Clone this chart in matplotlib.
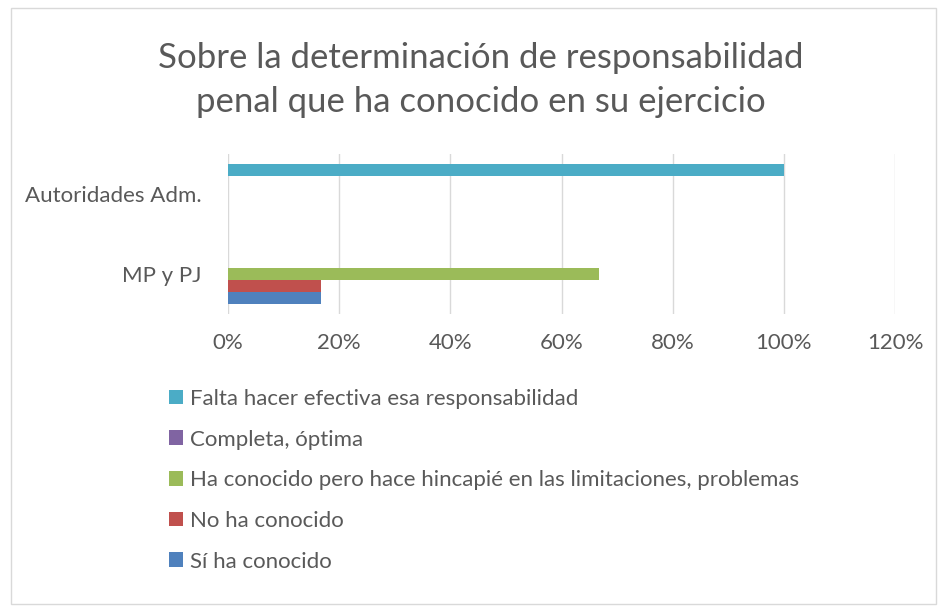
import matplotlib
matplotlib.use("Agg")
import matplotlib.pyplot as plt
from matplotlib.patches import Patch, Rectangle

categories = ["MP y PJ", "Autoridades Adm."]
series_names = [
    "Sí ha conocido",
    "No ha conocido",
    "Ha conocido pero hace hincapié en las limitaciones, problemas",
    "Completa, óptima",
    "Falta hacer efectiva esa responsabilidad",
]
si_ha_conocido = [0.1667, 0.0]
no_ha_conocido = [0.1667, 0.0]
ha_conocido_pero = [0.6667, 0.0]
completa_optima = [0.0, 0.0]
falta_hacer = [0.0, 1.0]
series_values = [si_ha_conocido, no_ha_conocido, ha_conocido_pero, completa_optima, falta_hacer]
colors = ["#4f81bd", "#c0504d", "#9bbb59", "#8064a2", "#4bacc6"]
xticks = [0, 0.2, 0.4, 0.6, 0.8, 1.0, 1.2]
xtick_labels = ["0%", "20%", "40%", "60%", "80%", "100%", "120%"]
title = "Sobre la determinación de responsabilidad\npenal que ha conocido en su ejercicio"

plt.rcParams['font.family'] = ['Lato', 'DejaVu Sans']
txt = "#595959"

fig = plt.figure(figsize=(9.4, 6.08), dpi=100)
fig.patch.set_facecolor("white")
fig.add_artist(Rectangle((11/940, 1-604/608), 925/940, 596/608, transform=fig.transFigure,
                         fill=False, edgecolor="#d9d9d9", lw=1))

ax = fig.add_axes([228/940, 1-314/608, (895-228)/940, 160/608])
h = 0.15
ypos = list(range(len(categories)))
for i, (vals, c) in enumerate(zip(series_values, colors)):
    ax.barh([y + (i-2)*h for y in ypos], vals, height=h, color=c, label=series_names[i])

ax.set_xlim(0, 1.2)
ax.set_ylim(-0.5, 1.5)
ax.set_xticks(xticks)
ax.set_xticklabels(xtick_labels, fontsize=16, color=txt)
ax.set_yticks(ypos)
ax.set_yticklabels(categories, fontsize=16, color=txt)
ax.tick_params(axis='both', length=0)
ax.tick_params(axis='x', pad=14)
ax.tick_params(axis='y', pad=19)
ax.grid(axis='x', color="#d9d9d9", lw=1)
ax.set_axisbelow(True)
for s in ax.spines.values():
    s.set_visible(False)

fig.text(481/940, 1-80/608, title, ha='center', va='center', fontsize=25, color=txt, linespacing=1.5)

handles = [Patch(facecolor=c, edgecolor='none') for c in colors][::-1]
labels = series_names[::-1]
fig.legend(handles, labels, loc='upper left', bbox_to_anchor=(160/940, 1-380/608),
           frameon=False, fontsize=16, labelcolor=txt, handlelength=0.64, handleheight=0.64,
           handletextpad=0.3, labelspacing=0.93, borderaxespad=0)

fig.savefig("out.png", dpi=100)
